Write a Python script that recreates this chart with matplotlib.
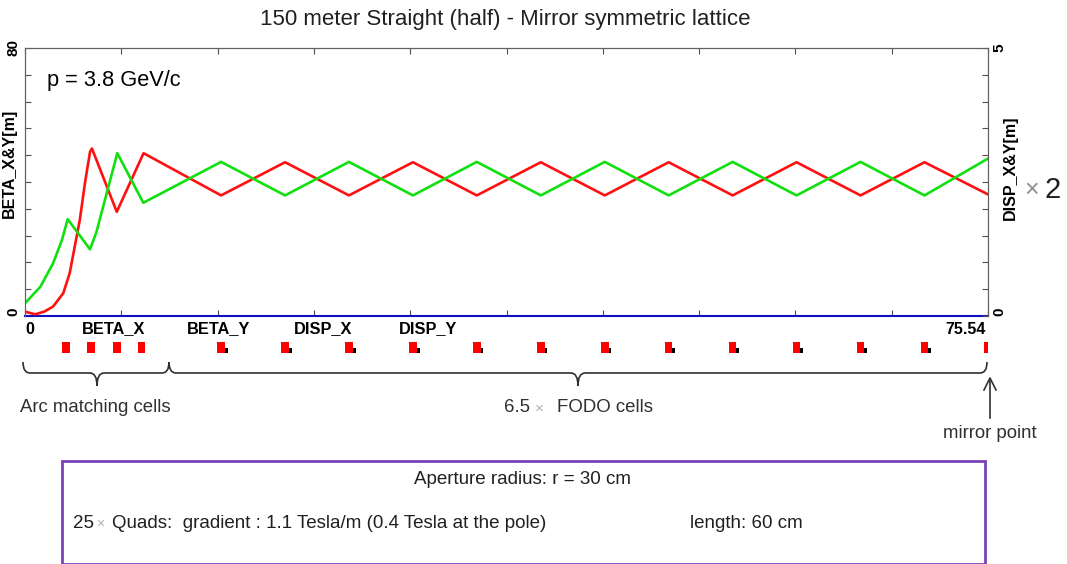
import numpy as np
import matplotlib
matplotlib.use('Agg')
import matplotlib.pyplot as plt
from matplotlib.patches import Rectangle, PathPatch
from matplotlib.path import Path
from matplotlib.transforms import blended_transform_factory

plt.rcParams['font.family'] = ['Liberation Sans', 'DejaVu Sans']

# --- data ----------------------------------------------------------------
s_end = 75.54

# BETA_X (red), s [m] and beta [m]
betax_s = [0.0, 0.8, 1.5, 2.2, 3.0, 3.5, 3.9, 4.3, 4.7, 5.1, 5.25, 7.2, 9.3,
           15.38, 20.40, 25.41, 30.43, 35.44, 40.46, 45.48, 50.49, 55.51,
           60.52, 65.54, 70.56, 75.54]
betax = [1.3, 0.5, 1.3, 2.8, 6.8, 12.7, 20.7, 28.7, 39.6, 49.0, 50.0, 31.1, 48.6,
         36.0, 45.9, 36.0, 45.9, 36.0, 45.9, 36.0, 45.9, 36.0,
         45.9, 36.0, 45.9, 36.3]

# BETA_Y (green)
betay_s = [0.0, 1.2, 2.2, 2.9, 3.35, 5.1, 5.6, 7.24, 9.28,
           15.38, 20.40, 25.41, 30.43, 35.44, 40.46, 45.48, 50.49, 55.51,
           60.52, 65.54, 70.56, 75.54]
betay = [3.8, 8.7, 15.7, 22.7, 28.9, 19.9, 25.0, 48.6, 33.8,
         46.0, 36.0, 46.0, 36.0, 46.0, 36.0, 46.0, 36.0, 46.0,
         36.0, 46.0, 36.0, 47.0]

# quadrupoles: centre, length, marked with black tag
quad_s = [3.2, 5.2, 7.2, 9.15, 15.38, 20.40, 25.41, 30.43, 35.44, 40.46,
          45.48, 50.49, 55.51, 60.52, 65.54, 70.56, 75.39]
quad_len = [0.6] * 16 + [0.3]
quad_tag = [False] * 4 + [True] * 12 + [False]

legend_names = ['BETA_X', 'BETA_Y', 'DISP_X', 'DISP_Y']

W, H = 1067, 564


def fx(px):
    return px / W


def fy(py):
    return 1 - py / H


fig = plt.figure(figsize=(W / 100, H / 100), dpi=100)
fig.patch.set_facecolor('white')

ax = fig.add_axes([fx(25), fy(316), (988 - 25) / W, (316 - 48) / H])
ax.plot(betax_s, betax, color='#ff1010', lw=1.9, zorder=3)
ax.plot(betay_s, betay, color='#10e010', lw=1.9, zorder=3)
ax.set_xlim(0, s_end)
ax.set_ylim(0, 80)

ax.set_xticks(np.linspace(0, s_end, 11))
ax.set_xticklabels([])
ax.set_yticks(np.arange(0, 81, 8))
ax.set_yticklabels(['0'] + [''] * 9 + ['80'], rotation=90, va='center',
                   fontsize=11, fontweight='bold')
ax.get_yticklabels()[0].set_va('bottom')
ax.tick_params(axis='x', direction='in', top=True, bottom=True, length=4,
               width=0.8, color='#505050')
ax.tick_params(axis='y', direction='in', left=True, length=4, width=0.8,
               color='#505050', pad=3)
for side in ['top', 'left', 'right']:
    ax.spines[side].set_color('#606060')
    ax.spines[side].set_linewidth(0.8)
ax.spines['bottom'].set_color('#1010c0')
ax.spines['bottom'].set_linewidth(1.5)
ax.set_ylabel('BETA_X&Y[m]', fontsize=11.5, fontweight='bold')
ax.yaxis.set_label_coords(-0.0085, 0.57)

ax2 = ax.twinx()
ax2.set_ylim(0, 5)
ax2.set_yticks(np.arange(0, 5.01, 0.5))
ax2.set_yticklabels(['0'] + [''] * 9 + ['5'], rotation=90, va='center',
                    fontsize=11, fontweight='bold')
ax2.get_yticklabels()[0].set_va('bottom')
ax2.tick_params(axis='y', direction='in', length=4, width=0.8, color='#505050')
for side in ['top', 'left', 'right']:
    ax2.spines[side].set_color('#606060')
    ax2.spines[side].set_linewidth(0.8)
ax2.spines['bottom'].set_visible(False)
ax2.set_ylabel('DISP_X&Y[m]', fontsize=11.5, fontweight='bold')
ax2.yaxis.set_label_coords(1.0156, 0.552)

ax.text(0.023, 0.88, 'p = 3.8 GeV/c', transform=ax.transAxes, fontsize=15.7,
        va='center', ha='left')

# labels under the axis
tr = blended_transform_factory(ax.transData, fig.transFigure)
ax.text(0.0, fy(329), '0', transform=tr, fontsize=11.5, fontweight='bold',
        ha='left', va='center')
ax.text(s_end - 0.2, fy(329), f'{s_end:.2f}', transform=tr, fontsize=11.5,
        fontweight='bold', ha='right', va='center')
for name, px in zip(legend_names, [114, 219, 323, 428]):
    fig.text(fx(px), fy(329), name, fontsize=11.8, fontweight='bold',
             ha='center', va='center')

# quadrupole markers
for s, L, tag in zip(quad_s, quad_len, quad_tag):
    ax.add_patch(Rectangle((s - L / 2, fy(353)), L, fy(342) - fy(353),
                           transform=tr, facecolor='#ff0000', edgecolor='none',
                           clip_on=False))
    if tag:
        ax.add_patch(Rectangle((s + L / 2, fy(353)), 0.22, fy(348) - fy(353),
                               transform=tr, facecolor='black',
                               edgecolor='none', clip_on=False))


def brace(x0, x1, xt, y_end, y_mid, y_tip, r=7):
    verts = [(x0, y_end), (x0, y_mid), (x0 + r, y_mid),
             (xt - r, y_mid),
             (xt, y_mid), (xt, y_tip),
             (xt, y_mid), (xt + r, y_mid),
             (x1 - r, y_mid),
             (x1, y_mid), (x1, y_end)]
    codes = [Path.MOVETO, Path.CURVE3, Path.CURVE3, Path.LINETO,
             Path.CURVE3, Path.CURVE3, Path.CURVE3, Path.CURVE3,
             Path.LINETO, Path.CURVE3, Path.CURVE3]
    verts = [(fx(a), fy(b)) for a, b in verts]
    fig.add_artist(PathPatch(Path(verts, codes), facecolor='none',
                             edgecolor='#303030', lw=1.2,
                             transform=fig.transFigure))


brace(23, 169, 97, 362, 373, 386)
brace(169, 987, 578, 362, 373, 386)

fig.add_artist(plt.Line2D([fx(990), fx(990)], [fy(418), fy(380)],
                          color='#303030', lw=1.2))
fig.add_artist(plt.Line2D([fx(984), fx(990), fx(996)],
                          [fy(390), fy(378), fy(390)], color='#303030', lw=1.2))

fig.text(fx(20), fy(407), 'Arc matching cells', fontsize=13.4, color='#303030',
         ha='left', va='center')
fig.text(fx(504), fy(408), '6.5', fontsize=13.4, color='#303030', ha='left',
         va='center')
fig.text(fx(535), fy(409), '×', fontsize=11, color='#b0b0b0', ha='left',
         va='center')
fig.text(fx(557), fy(408), 'FODO cells', fontsize=13.4, color='#303030',
         ha='left', va='center')
fig.text(fx(990), fy(433), 'mirror point', fontsize=13.4, color='#303030',
         ha='center', va='center')

fig.text(fx(1024), fy(190), '×', fontsize=18, color='#909090', ha='left',
         va='center')
fig.text(fx(1044), fy(190), '2', fontsize=21, color='#202020', ha='left',
         va='center')

fig.text(fx(505), fy(20), '150 meter Straight (half) - Mirror symmetric lattice',
         fontsize=16, color='#202020', ha='center', va='center')

# info box
fig.add_artist(Rectangle((fx(62), fy(564)), fx(985) - fx(62), fy(461) - fy(564),
                         transform=fig.transFigure, facecolor='none',
                         edgecolor='#7a44b8', lw=2.0))
fig.text(fx(523), fy(479), 'Aperture radius: r = 30 cm', fontsize=13.5,
         color='#202020', ha='center', va='center')
fig.text(fx(73), fy(523), '25', fontsize=13.5, color='#202020', ha='left',
         va='center')
fig.text(fx(96), fy(524), '×', fontsize=10, color='#b0b0b0', ha='left',
         va='center')
fig.text(fx(112), fy(523), 'Quads:  gradient : 1.1 Tesla/m (0.4 Tesla at the pole)',
         fontsize=13.5, color='#202020', ha='left', va='center')
fig.text(fx(690), fy(523), 'length: 60 cm', fontsize=13.5, color='#202020',
         ha='left', va='center')

fig.savefig('out.png', dpi=100, facecolor='white')
